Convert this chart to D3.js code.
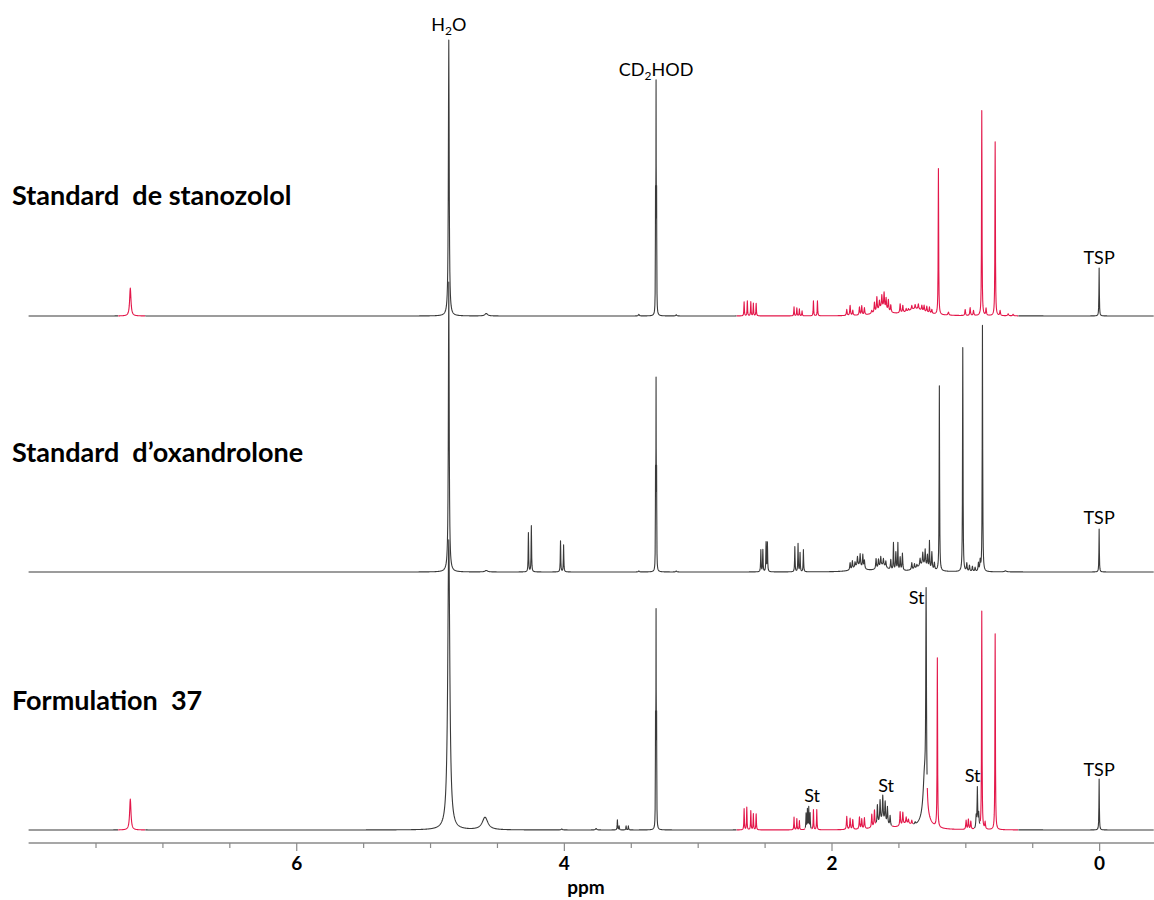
<!DOCTYPE html>
<html>
<head>
<meta charset="utf-8">
<script src="https://cdn.jsdelivr.net/npm/d3@7"></script>
<style>
  html, body { margin: 0; padding: 0; background: #fff; }
  svg { display: block; }
</style>
</head>
<body>
<svg id="chart" width="1154" height="900"></svg>
<script>
// ---------------- DATA ----------------
const xDomain = [8.0, -0.41];                       // ppm, reversed axis
const tickValues = [7.5, 7, 6.5, 6, 5.5, 5, 4.5, 4, 3.5, 3, 2.5, 2, 1.5, 1, 0.5, 0];
const tickLabels = [6, 4, 2, 0];
const axisTitle = "ppm";

const sampleNames = ["Standard  de stanozolol", "Standard  d\u2019oxandrolone", "Formulation  37"];

// peaks: [ppm, height, half-width (ppm)]
const stanozololPeaks = [
  [7.24, 28, 0.006],
  [4.86, 276, 0.0035],
  [4.58, 2.5, 0.012],
  [3.307, 110, 0.0012], [3.311, 218, 0.0012], [3.315, 110, 0.0012],
  [3.44, 1.5, 0.004], [3.16, 1.2, 0.004],
  [2.653, 14, 0.002], [2.629, 15, 0.002], [2.603, 14, 0.002], [2.584, 12.5, 0.002], [2.563, 12.5, 0.002],
  [2.280, 9, 0.002], [2.259, 8, 0.002], [2.240, 7, 0.002], [2.220, 5, 0.002],
  [2.135, 15, 0.002], [2.105, 15, 0.002],
  [1.886, 6, 0.003], [1.861, 10, 0.003], [1.841, 5, 0.003],
  [1.791, 8, 0.003], [1.774, 9, 0.003], [1.754, 7, 0.003],
  [1.62, 8, 0.045],
  [1.699, 3, 0.004], [1.679, 10, 0.003], [1.661, 14, 0.003], [1.642, 8, 0.003], [1.624, 12, 0.003],
  [1.607, 15, 0.003], [1.592, 11, 0.003], [1.575, 11, 0.003], [1.557, 7, 0.003],
  [1.37, 7, 0.08],
  [1.487, 9, 0.003], [1.467, 7, 0.003], [1.442, 3, 0.003], [1.425, 2, 0.003], [1.400, 4, 0.003],
  [1.375, 4, 0.003], [1.351, 5, 0.003], [1.325, 5, 0.003], [1.308, 6, 0.003], [1.288, 6, 0.003],
  [1.268, 6, 0.003], [1.250, 4, 0.003],
  [1.201, 146, 0.002],
  [1.126, 3, 0.004],
  [1.001, 6, 0.003], [0.964, 8, 0.003], [0.939, 5, 0.003],
  [0.877, 205, 0.002], [0.845, 7, 0.003],
  [0.777, 174, 0.002], [0.740, 5, 0.003],
  [0.680, 2, 0.004], [0.643, 1.5, 0.004],
  [0.0, 48, 0.0018]
];

const oxandrolonePeaks = [
  [4.86, 290, 0.0035],
  [4.58, 1.5, 0.012],
  [4.265, 39, 0.002], [4.243, 46, 0.002],
  [4.025, 31, 0.002], [4.002, 27, 0.002],
  [3.44, 1, 0.004], [3.16, 1, 0.004],
  [3.307, 90, 0.0012], [3.311, 180, 0.0012], [3.315, 90, 0.0012],
  [2.528, 22, 0.002], [2.513, 22, 0.002], [2.489, 29, 0.002], [2.479, 29, 0.002],
  [2.274, 25, 0.002], [2.250, 28, 0.002], [2.235, 19, 0.002], [2.210, 22, 0.002],
  [1.80, 6, 0.04],
  [1.861, 7, 0.003], [1.844, 8, 0.003], [1.824, 5, 0.003], [1.806, 9, 0.003], [1.786, 12, 0.003],
  [1.766, 13, 0.003], [1.754, 8, 0.003],
  [1.62, 6, 0.04],
  [1.667, 10, 0.003], [1.649, 8, 0.003], [1.632, 9, 0.003], [1.612, 7, 0.003], [1.594, 6, 0.003],
  [1.557, 10, 0.003], [1.537, 27, 0.002], [1.519, 18, 0.003], [1.504, 27, 0.002], [1.487, 13, 0.003],
  [1.470, 17, 0.003],
  [1.32, 7, 0.05],
  [1.400, 7, 0.003], [1.380, 5, 0.003], [1.362, 3, 0.003], [1.338, 7, 0.003], [1.318, 12, 0.003],
  [1.300, 16, 0.003], [1.283, 12, 0.003], [1.268, 27, 0.002], [1.250, 17, 0.003], [1.231, 7, 0.003],
  [1.194, 185, 0.002],
  [1.019, 224, 0.002],
  [0.989, 8, 0.003], [0.969, 6, 0.003], [0.947, 5, 0.003], [0.927, 4, 0.003], [0.902, 8, 0.003],
  [0.889, 10, 0.003],
  [0.872, 246, 0.002],
  [0.70, 1, 0.01],
  [0.0, 43, 0.0018]
];

const formulationPeaks = [
  [7.24, 31, 0.006],
  [4.86, 290, 0.009],
  [4.589, 12.5, 0.025],
  [4.016, 1, 0.005], [3.759, 1.5, 0.005],
  [3.600, 10, 0.002], [3.587, 4, 0.002], [3.535, 4, 0.002], [3.518, 4, 0.002],
  [3.307, 100, 0.0012], [3.311, 205, 0.0012], [3.315, 100, 0.0012],
  [2.653, 21, 0.002], [2.633, 22.6, 0.002], [2.603, 19, 0.002], [2.584, 16, 0.002], [2.563, 16, 0.002],
  [2.280, 12.6, 0.002], [2.259, 11, 0.002], [2.240, 9, 0.002],
  [2.190, 16, 0.002], [2.180, 20, 0.002], [2.170, 22, 0.002], [2.160, 16, 0.002],
  [2.135, 20, 0.002], [2.110, 20, 0.002],
  [1.886, 13, 0.003], [1.861, 11, 0.003], [1.841, 9.7, 0.003],
  [1.791, 12, 0.003], [1.774, 10, 0.003], [1.754, 11, 0.003],
  [1.62, 9, 0.04],
  [1.699, 13, 0.003], [1.679, 16, 0.003],
  [1.657, 19, 0.003], [1.637, 21, 0.003], [1.617, 24, 0.003], [1.599, 20, 0.003], [1.582, 17, 0.003],
  [1.562, 10, 0.003],
  [1.44, 5, 0.05],
  [1.487, 14, 0.003], [1.467, 12, 0.003], [1.442, 6, 0.003], [1.425, 4, 0.003], [1.400, 4, 0.003],
  [1.375, 2, 0.003],
  [1.293, 210, 0.003], [1.305, 40, 0.012], [1.30, 12, 0.04],
  [1.209, 169, 0.002],
  [0.994, 9, 0.003], [0.977, 10, 0.003], [0.959, 8, 0.003],
  [0.919, 12, 0.003], [0.910, 40, 0.0025], [0.900, 14, 0.003],
  [0.877, 218, 0.002], [0.852, 7, 0.003],
  [0.777, 196, 0.002],
  [0.0, 51, 0.0018]
];

// ppm ranges drawn in red (stanozolol signals)
const stanozololRed = [[7.33, 7.13], [2.708, 0.605]];
const oxandroloneRed = [];
const formulationRed = [[7.33, 7.13], [2.708, 2.196], [2.150, 1.668], [1.548, 1.39],
                        [1.284, 0.934], [0.889, 0.605]];

// annotations: [text ("a|sub|b" for subscripts), ppm, intensity of label baseline]
const stanozololLabels = [["H|2|O", 4.86, 285], ["CD|2|HOD", 3.311, 240], ["TSP", 0.0, 52]];
const oxandroloneLabels = [["TSP", 0.0, 48]];
const formulationLabels = [["St", 2.145, 28], ["St", 1.592, 38], ["St", 1.364, 226],
                           ["St", 0.945, 48], ["TSP", 0.0, 54]];

// ---------------- LAYOUT ----------------
const svg = d3.select("#chart");
const x = d3.scaleLinear().domain(xDomain).range([28.6, 1154]);
const baselines = [316, 572, 830];
const axisY = 843;
const RED = "#e3174a", DARK = "#3a3a3a";
const FONT = "Lato, 'Open Sans', sans-serif";

const spectra = [
  { name: sampleNames[0], peaks: stanozololPeaks, red: stanozololRed, labels: stanozololLabels, labelY: 205 },
  { name: sampleNames[1], peaks: oxandrolonePeaks, red: oxandroloneRed, labels: oxandroloneLabels, labelY: 462 },
  { name: sampleNames[2], peaks: formulationPeaks, red: formulationRed, labels: formulationLabels, labelY: 710 }
];

function makeGrid(peaks) {
  const g = d3.range(xDomain[0], xDomain[1], -0.002);
  peaks.forEach(p => g.push(p[0]));
  return g.sort((a, b) => b - a);
}
function intensity(p, peaks) {
  let s = 0;
  for (const [c, h, w] of peaks) {
    const d = (p - c) / w;
    s += h / (1 + d * d);
  }
  return s;
}
function inRanges(p, ranges) {
  return ranges.some(r => p <= r[0] && p >= r[1]);
}

spectra.forEach((s, i) => {
  const y = d3.scaleLinear().domain([0, 300]).range([baselines[i], baselines[i] - 300]);
  const pts = makeGrid(s.peaks).map(p => ({ p, v: intensity(p, s.peaks) }));
  const g = svg.append("g");
  g.append("path")
    .attr("d", d3.line().x(d => x(d.p)).y(d => y(d.v)).defined(d => !inRanges(d.p, s.red))(pts))
    .attr("fill", "none").attr("stroke", DARK).attr("stroke-width", 1.1)
    .attr("stroke-linejoin", "round");
  if (s.red.length) {
    g.append("path")
      .attr("d", d3.line().x(d => x(d.p)).y(d => y(d.v)).defined(d => inRanges(d.p, s.red))(pts))
      .attr("fill", "none").attr("stroke", RED).attr("stroke-width", 1.1)
      .attr("stroke-linejoin", "round");
  }
  // sample name
  svg.append("text")
    .attr("x", 12).attr("y", s.labelY)
    .attr("font-family", FONT)
    .attr("font-weight", "bold").attr("font-size", 27)
    .attr("fill", "#000")
    .style("white-space", "pre")
    .text(s.name);
  // peak annotations
  s.labels.forEach(([txt, ppm, lv]) => {
    const t = svg.append("text")
      .attr("x", x(ppm)).attr("y", y(lv))
      .attr("text-anchor", "middle")
      .attr("font-family", FONT)
      .attr("font-size", 18).attr("fill", "#000");
    const parts = txt.split("|");
    if (parts.length === 3) {
      t.append("tspan").text(parts[0]);
      t.append("tspan").attr("font-size", 12).attr("dy", 4).text(parts[1]);
      t.append("tspan").attr("dy", -4).text(parts[2]);
    } else {
      t.text(txt);
    }
  });
});

// axis
const axis = d3.axisBottom(x)
  .tickValues(tickValues)
  .tickSize(5)
  .tickFormat(d => tickLabels.includes(d) ? d3.format("d")(d) : "");
const ag = svg.append("g").attr("transform", `translate(0,${axisY})`).call(axis);
ag.select(".domain").attr("stroke", "#8a8a8a").attr("stroke-width", 1.6)
  .attr("d", `M${x(xDomain[0])},0H${x(xDomain[1])}`);
ag.selectAll(".tick line").attr("stroke", "#8a8a8a").attr("stroke-width", 1.2)
  .attr("y2", d => tickLabels.includes(d) ? 8 : 5);
ag.selectAll(".tick text")
  .attr("y", 14)
  .attr("font-family", FONT)
  .attr("font-weight", "bold").attr("font-size", 19).attr("fill", "#000");
svg.append("text")
  .attr("x", 586).attr("y", 894)
  .attr("text-anchor", "middle")
  .attr("font-family", FONT)
  .attr("font-weight", "bold").attr("font-size", 19).attr("fill", "#000")
  .text(axisTitle);
</script>
</body>
</html>
